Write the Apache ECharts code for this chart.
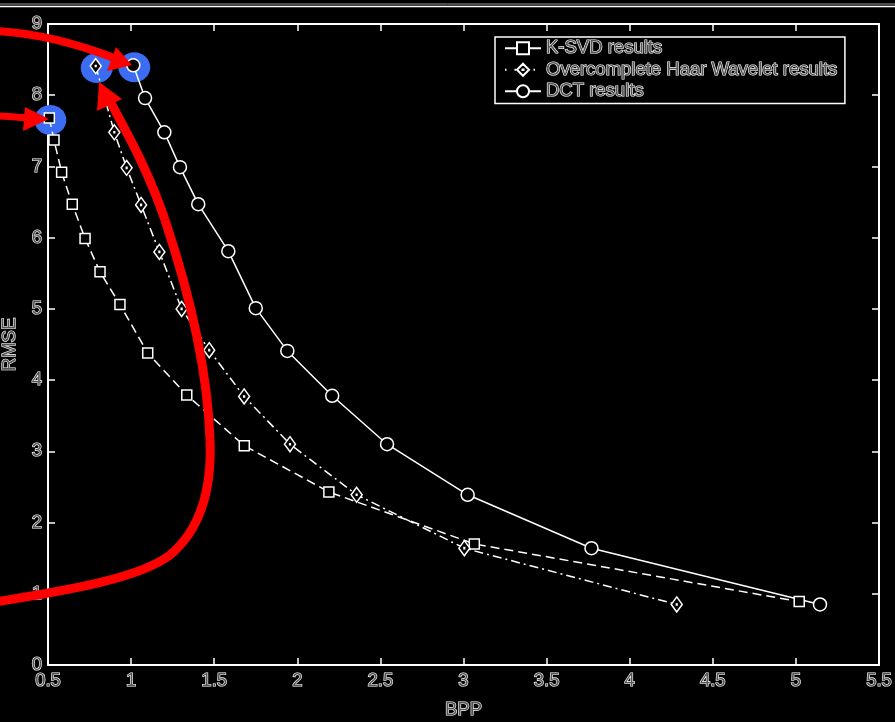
<!DOCTYPE html>
<html>
<head>
<meta charset="utf-8">
<script src="https://cdn.jsdelivr.net/npm/echarts@6/dist/echarts.min.js"></script>
<style>html,body{margin:0;padding:0;background:#000;}#c{width:895px;height:722px;}</style>
</head>
<body>
<div id="c"></div>
<script>
// ---- data ----
var seriesNames = ['K-SVD results', 'Overcomplete Haar Wavelet results', 'DCT results'];
var ksvdX = [0.508, 0.536, 0.582, 0.646, 0.723, 0.813, 0.933, 1.10, 1.335, 1.681, 2.19, 3.065, 5.02];
var ksvdY = [7.68, 7.37, 6.92, 6.47, 5.99, 5.52, 5.06, 4.38, 3.79, 3.08, 2.43, 1.70, 0.89];
var haarX = [0.787, 0.899, 0.973, 1.06, 1.17, 1.304, 1.47, 1.68, 1.956, 2.357, 3.005, 4.283];
var haarY = [8.41, 7.48, 6.98, 6.46, 5.80, 5.00, 4.42, 3.77, 3.10, 2.39, 1.64, 0.85];
var dctX = [1.013, 1.084, 1.20, 1.294, 1.404, 1.585, 1.75, 1.94, 2.21, 2.54, 3.025, 3.77, 5.145];
var dctY = [8.42, 7.96, 7.48, 6.99, 6.47, 5.81, 5.01, 4.41, 3.78, 3.10, 2.39, 1.64, 0.85];
var xTicks = [0.5, 1, 1.5, 2, 2.5, 3, 3.5, 4, 4.5, 5, 5.5];
var yTicks = [0, 1, 2, 3, 4, 5, 6, 7, 8, 9];
// highlighted points: [seriesIndex, pointIndex]
var highlighted = [[0, 0], [1, 0], [2, 0]];

function zip(xs, ys) { return xs.map(function (x, i) { return [x, ys[i]]; }); }

var FONT = '"Liberation Sans", Arial, sans-serif';
var txt = { color: '#555', textBorderColor: '#fff', textBorderWidth: 1.2, fontFamily: FONT, fontSize: 18.5 };
var diamondPath = 'path://M0,-10L7,0L0,10L-7,0Z M-0.6,-0.6L0.6,-0.6L0.6,0.6L-0.6,0.6Z';

var chart = echarts.init(document.getElementById('c'), null, { renderer: 'canvas' });

function axisX(pos, show) {
  return {
    type: 'value', position: pos, min: xTicks[0], max: xTicks[xTicks.length - 1], interval: 0.5,
    axisLine: { show: true, onZero: false, lineStyle: { color: '#fff', width: 2 } },
    axisTick: { show: true, inside: true, length: 7, lineStyle: { color: '#fff', width: 1.5 } },
    axisLabel: show ? Object.assign({ margin: 6, showMinLabel: true, showMaxLabel: true }, txt) : { show: false },
    splitLine: { show: false },
    name: show ? 'BPP' : '', nameLocation: 'middle', nameGap: 35,
    nameTextStyle: Object.assign({}, txt)
  };
}
function axisY(pos, show) {
  return {
    type: 'value', position: pos, min: yTicks[0], max: yTicks[yTicks.length - 1], interval: 1,
    axisLine: { show: true, onZero: false, lineStyle: { color: '#fff', width: 2 } },
    axisTick: { show: true, inside: true, length: 7, lineStyle: { color: '#fff', width: 1.5 } },
    axisLabel: show ? Object.assign({ margin: 6, showMinLabel: true, showMaxLabel: true }, txt) : { show: false },
    splitLine: { show: false },
    name: show ? 'RMSE' : '', nameLocation: 'middle', nameGap: 22, nameRotate: 90,
    nameTextStyle: Object.assign({}, txt)
  };
}

var lineW = 1.5;
var option = {
  backgroundColor: '#000',
  animation: false,
  grid: { left: 48, right: 16, top: 24, bottom: 57, containLabel: false, outerBoundsMode: 'none' },
  xAxis: [axisX('bottom', true), axisX('top', false)],
  yAxis: [axisY('left', true), axisY('right', false)],
  legend: {
    orient: 'vertical', left: 495, top: 37,
    backgroundColor: '#000', borderColor: '#fff', borderWidth: 1.5,
    padding: [1, 7, 2, 9], itemGap: 1, itemWidth: 36, itemHeight: 15,
    textStyle: Object.assign({ lineHeight: 20.5 }, txt),
    data: [
      { name: seriesNames[0], lineStyle: { type: 'solid' } },
      { name: seriesNames[1], lineStyle: { type: [1.5, 8] } },
      { name: seriesNames[2], lineStyle: { type: 'solid' } }
    ]
  },
  series: [
    {
      name: seriesNames[0], type: 'line', data: zip(ksvdX, ksvdY), z: 3,
      symbol: 'rect', symbolSize: 10,
      lineStyle: { color: '#fff', width: lineW, type: [9, 5] },
      itemStyle: { color: '#000', borderColor: '#fff', borderWidth: 1.5 }
    },
    {
      name: seriesNames[1], type: 'line', data: zip(haarX, haarY), z: 3,
      symbol: diamondPath, symbolSize: [11, 15],
      lineStyle: { color: '#fff', width: lineW, type: [9, 4, 2, 4] },
      itemStyle: { color: '#000', borderColor: '#fff', borderWidth: 1.5 }
    },
    {
      name: seriesNames[2], type: 'line', data: zip(dctX, dctY), z: 3,
      symbol: 'circle', symbolSize: 13,
      lineStyle: { color: '#fff', width: lineW, type: 'solid' },
      itemStyle: { color: '#000', borderColor: '#fff', borderWidth: 1.5 }
    }
  ]
};
chart.setOption(option);

// annotations
var allData = [zip(ksvdX, ksvdY), zip(haarX, haarY), zip(dctX, dctY)];
var els = [];
els.push({ type: 'line', z: 1, shape: { x1: 0, y1: 4, x2: 895, y2: 4 }, style: { stroke: '#999', lineWidth: 1 } });
els.push({ type: 'line', z: 1, shape: { x1: 0, y1: 6.5, x2: 895, y2: 6.5 }, style: { stroke: '#fff', lineWidth: 1.5 } });
highlighted.forEach(function (h) {
  var p = chart.convertToPixel({ gridIndex: 0 }, allData[h[0]][h[1]]);
  els.push({ type: 'ellipse', z: 1, shape: { cx: p[0] + 1, cy: p[1] + 2, rx: 16, ry: 15 }, style: { fill: '#3b6cf2' } });
});
var red = '#ff0000';
function bez(a, c1, c2, b, w) {
  return { type: 'bezierCurve', z: 100, shape: { x1: a[0], y1: a[1], cpx1: c1[0], cpy1: c1[1], cpx2: c2[0], cpy2: c2[1], x2: b[0], y2: b[1] }, style: { fill: null, stroke: red, lineWidth: w, lineCap: 'butt' } };
}
els.push(bez([-5, 31], [35, 33], [75, 43], [114, 58], 8));
els.push({ type: 'polygon', z: 100, shape: { points: [[116, 47], [107, 71], [132, 65]] }, style: { fill: red } });
els.push(bez([-5, 116], [5, 116], [15, 117], [27, 118], 7));
els.push({ type: 'polygon', z: 100, shape: { points: [[25, 107], [23, 131], [49, 119]] }, style: { fill: red } });
els.push(bez([-5, 602], [70, 590], [140, 578], [170, 555], 9));
els.push(bez([170, 555], [200, 530], [212, 490], [210, 440], 9));
els.push(bez([210, 440], [208, 380], [195, 310], [165, 220], 9));
els.push(bez([165, 220], [148, 170], [128, 135], [111, 103], 9));
els.push({ type: 'polygon', z: 100, shape: { points: [[99, 82], [97, 111], [122, 99]] }, style: { fill: red } });
chart.setOption({ graphic: { elements: els } });
</script>
</body>
</html>
